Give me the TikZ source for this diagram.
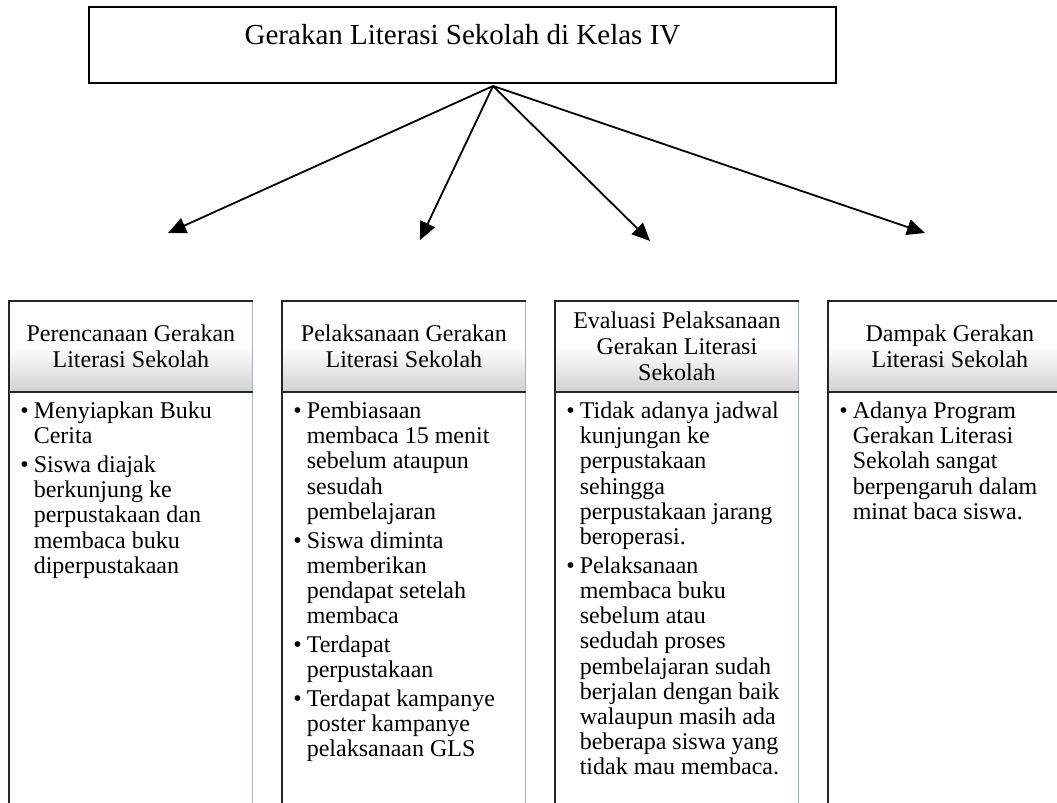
\documentclass[tikz,border=0pt]{standalone}
\usepackage{fontspec}
\setmainfont{Liberation Serif}
\usetikzlibrary{arrows.meta,positioning}
\definecolor{edgelight}{RGB}{160,178,196}
\definecolor{headshade}{RGB}{210,210,210}
\newcommand{\glslist}[1]{\begin{tabular}[t]{@{}l@{\hspace{2.5pt}}l@{}}#1\end{tabular}}
\begin{document}
\begin{tikzpicture}[x=0.5pt,y=-0.5pt,
  titlebox/.style={draw,line width=1pt,minimum width=373.5pt,minimum height=38pt,
    inner sep=0pt,text height=16pt,text depth=16pt,font=\fontsize{14.5}{16}\selectfont},
  headbox/.style={rectangle,anchor=north west,minimum width=121.5pt,minimum height=45pt,
    inner sep=0pt,top color=white,bottom color=headshade,middle color=white,
    align=center,font=\fontsize{12}{13}\selectfont},
  bodybox/.style={rectangle,anchor=north west,minimum width=121.5pt,minimum height=215pt,
    inner sep=0pt,fill=white},
  bodytext/.style={anchor=base west,inner sep=0pt,font=\fontsize{12}{12.6}\selectfont},
  darkedge/.style={line width=1pt,black!85},
  lightedge/.style={line width=0.5pt,edgelight},
  link/.style={line width=0.9pt,-{Triangle[length=9pt,width=8pt]}}]
\useasboundingbox (0,0) rectangle (1057,803);
\clip (0,0) rectangle (1057,803);
% judul
\node[titlebox] (title) at (462.5,45) {Gerakan Literasi Sekolah di Kelas IV};
\coordinate (t1) at (168,233);
\coordinate (t2) at (420,240);
\coordinate (t3) at (650,241);
\coordinate (t4) at (925,233);
\foreach \tip in {t1,t2,t3,t4}
  \draw[link] ([xshift=15.25pt,yshift=-1pt]title.south) -- (\tip);
% kolom
\node[headbox] (h1) at (9,301) {Perencanaan Gerakan\\Literasi Sekolah};
\node[headbox] (h2) at (282,301) {Pelaksanaan Gerakan\\Literasi Sekolah};
\node[headbox] (h3) at (555,301) {Evaluasi Pelaksanaan\\Gerakan Literasi\\Sekolah};
\node[headbox] (h4) at (828,301) {Dampak Gerakan\\Literasi Sekolah};
\foreach \c in {1,...,4}{
  \node[bodybox] (b\c) at (h\c.south west) {};
  \draw[lightedge] (h\c.north east) -- (b\c.south east);
  \draw[darkedge] (h\c.north east) -- (h\c.north west) -- (b\c.south west);
  \draw[darkedge] (h\c.south west) -- (h\c.south east);
}
% isi
\node[bodytext] (i1) at (20,418.5) {\glslist{%
  \textbullet & Menyiapkan Buku\\ & Cerita\\[1.8pt]
  \textbullet & Siswa diajak\\ & berkunjung ke\\ & perpustakaan dan\\
  & membaca buku\\ & diperpustakaan}};
\node[bodytext] (i2) at (293,418.5) {\glslist{%
  \textbullet & Pembiasaan\\ & membaca 15 menit\\ & sebelum ataupun\\
  & sesudah\\ & pembelajaran\\[1.8pt]
  \textbullet & Siswa diminta\\ & memberikan\\ & pendapat setelah\\
  & membaca\\[1.8pt]
  \textbullet & Terdapat\\ & perpustakaan\\[1.8pt]
  \textbullet & Terdapat kampanye\\ & poster kampanye\\ & pelaksanaan GLS}};
\node[bodytext] (i3) at (566,418.5) {\glslist{%
  \textbullet & Tidak adanya jadwal\\ & kunjungan ke\\ & perpustakaan\\
  & sehingga\\ & perpustakaan jarang\\ & beroperasi.\\[1.8pt]
  \textbullet & Pelaksanaan\\ & membaca buku\\ & sebelum atau\\
  & sedudah proses\\ & pembelajaran sudah\\ & berjalan dengan baik\\
  & walaupun masih ada\\ & beberapa siswa yang\\ & tidak mau membaca.}};
\node[bodytext] (i4) at (839,418.5) {\glslist{%
  \textbullet & Adanya Program\\ & Gerakan Literasi\\ & Sekolah sangat\\
  & berpengaruh dalam\\ & minat baca siswa.}};
\end{tikzpicture}
\end{document}
